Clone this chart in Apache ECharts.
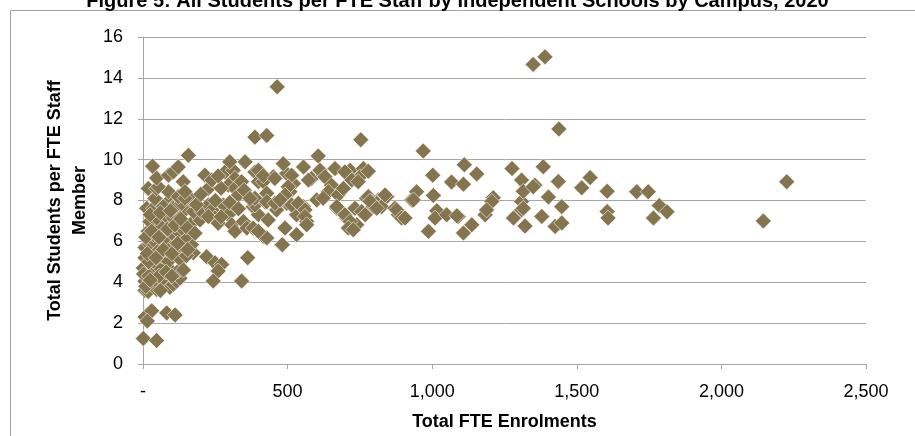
<!DOCTYPE html>
<html>
<head>
<meta charset="utf-8">
<script src="https://cdn.jsdelivr.net/npm/echarts@6/dist/echarts.min.js"></script>
<style>html,body{margin:0;padding:0;background:#fff}#c{width:915px;height:436px}</style>
</head>
<body>
<div id="c"></div>
<script>
var titleText = "Figure 5: All Students per FTE Staff by Independent Schools by Campus, 2020";
var xAxisTitle = "Total FTE Enrolments";
var yAxisTitle = "Total Students per FTE Staff\nMember";
var xTicks = [0, 500, 1000, 1500, 2000, 2500];
var yTicks = [0, 2, 4, 6, 8, 10, 12, 14, 16];

// Small campuses (enrolment under ~260)
var enrolSmall = [1,47,7,30,82,111,15,7,18,41,47,70,88,93,105,116,128,7,70,1,30,59,93,122,2,20,55,7,36,65,88,111,82,134,174,7,24,41,88,111,168,145,76,50,20,130,150,18,36,41,65,99,122,134,59,24,99,168,197,10,47,82,116,105,145,174,203,226,238,249,226,13,36,65,88,111,70,105,134,163,41,18,88,122,157,145,47,53,139,145,47,88,105,122,33,157,214,226,238,
  10,25,60,80,100,140,15,45,70,100,120,155,30,55,85,110,150,180,25,60,95,130,185,200];
var ratioSmall = [1.25,1.15,2.3,2.6,2.5,2.4,2.1,3.6,3.55,3.9,3.65,3.75,3.9,3.75,3.9,4.05,4.2,4.05,4.2,4.7,4.55,4.7,4.63,4.55,4.4,4.3,4.3,5.2,5.03,5.28,5.03,5.52,5.6,5.68,5.44,5.7,5.84,6.0,5.84,6.0,5.84,6.17,6.17,5.5,5.0,5.1,5.3,6.49,6.33,6.81,6.65,6.41,6.49,6.65,6.81,6.97,6.97,6.89,7.05,6.2,7.14,7.22,7.3,7.14,7.54,7.46,7.46,7.78,7.54,7.14,7.22,7.62,7.62,7.78,7.94,7.78,7.7,7.62,7.86,8.03,8.1,8.59,8.43,8.19,8.19,8.11,8.59,8.67,8.92,8.43,9.1,9.24,9.4,9.64,9.68,10.21,9.24,8.59,9.0,
  3.8,4.1,3.6,4.5,4.3,4.6,5.4,5.2,5.6,5.4,5.9,5.6,6.5,6.2,6.6,6.8,6.7,6.4,7.3,7.4,7.5,7.1,7.8,8.3];

// Mid-sized campuses (~250 to ~950)
var enrolMid = [260,278,295,307,318,347,359,284,312,318,295,318,341,330,353,387,399,220,249,272,260,243,362,341,381,399,387,422,462,497,531,555,566,670,704,739,773,796,814,381,416,480,531,428,399,491,416,451,497,520,508,428,485,485,555,583,623,664,716,762,750,464,387,428,753,606,399,416,456,514,572,612,629,698,722,744,779,502,491,652,641,675,693,779,791,843,929,387,428,456,474,514,537,560,601,623,670,733,756,768,808,825,871,883,433,560,566,698,716,710,727,482,785,808,877,894,906,
  250,270,300,330,260,350,370,300,270];
var ratioMid = [6.89,7.78,7.3,6.81,6.49,6.97,6.65,9.4,9.48,9.08,8.75,8.59,8.92,8.27,9.89,9.4,8.92,5.25,4.95,4.87,4.55,4.06,5.2,4.06,7.7,7.3,7.78,7.94,7.54,7.86,7.3,7.7,6.97,7.62,7.14,6.81,8.11,7.7,8.03,6.65,6.25,5.84,6.33,6.17,6.49,6.65,8.92,9.16,9.32,8.83,8.43,8.35,8.11,9.8,9.64,9.08,9.24,9.56,9.48,9.56,9.16,13.56,11.1,11.18,10.97,10.18,9.48,9.21,9.08,9.24,9.0,9.48,9.16,9.4,9.0,8.92,9.43,8.67,8.27,8.75,8.43,8.27,8.59,8.19,7.94,8.19,8.03,8.11,7.94,7.86,8.03,7.78,7.86,7.54,8.03,8.11,7.7,7.62,7.46,7.3,7.86,7.7,7.62,7.3,7.05,7.22,6.81,7.3,6.97,6.65,6.57,5.84,7.96,7.62,7.54,7.14,7.14,
  8.0,8.6,7.9,7.6,9.2,8.5,8.1,9.9,7.2];

// Large campuses (~830 and above)
var enrolLarge = [969,1002,1111,1154,1067,1108,1276,1384,1309,1355,1436,837,946,1004,1211,935,1016,1010,1050,1090,987,1108,1137,1183,1206,1309,1309,1315,1349,1281,1321,1379,1402,1448,1425,1448,1546,1517,1605,1605,1608,1707,1747,1765,1785,1812,2145,2226,1349,1390,1438,1188,1315,1085];
var ratioLarge = [10.42,9.24,9.75,9.3,8.9,8.8,9.56,9.65,9.0,8.75,8.93,8.27,8.43,8.25,8.14,8.03,7.5,7.14,7.3,7.22,6.49,6.41,6.81,7.3,7.95,7.95,7.54,8.45,8.67,7.14,6.75,7.22,8.17,7.7,6.73,6.9,9.12,8.62,8.45,7.46,7.14,8.43,8.43,7.14,7.75,7.45,7.0,8.92,14.66,15.03,11.5,7.54,7.62,7.25];

function pairs(xs, ys){ var out=[]; for (var i=0;i<xs.length;i++) out.push([xs[i], ys[i]]); return out; }
var points = pairs(enrolSmall, ratioSmall).concat(pairs(enrolMid, ratioMid)).concat(pairs(enrolLarge, ratioLarge));

var FONT = "'Liberation Sans', Arial, sans-serif";
var gridColor = '#a6a6a6';
var chart = echarts.init(document.getElementById('c'), null, {renderer:'canvas'});
chart.setOption({
  animation: false,
  backgroundColor: '#ffffff',
  title: {
    text: titleText, left: 'center', top: -14,
    textStyle: {fontFamily: FONT, fontSize: 20, fontWeight: 'bold', color: '#000'}
  },
  graphic: [{
    type: 'rect', left: 8, top: 8, z: -1, silent: true,
    shape: {width: 1000, height: 1000},
    style: {fill: 'none', stroke: '#a0a0a0', lineWidth: 1}
  }],
  grid: {left: 143, right: 49, top: 37, bottom: 69, containLabel: false},
  xAxis: {
    type: 'value', min: xTicks[0], max: xTicks[xTicks.length-1], interval: 500,
    name: xAxisTitle, nameLocation: 'middle', nameGap: 49,
    nameTextStyle: {fontFamily: FONT, fontSize: 18, fontWeight: 'bold', color: '#000'},
    axisLine: {show: true, onZero: false, lineStyle: {color: gridColor, width: 1}},
    axisTick: {show: true, length: 5, inside: false, lineStyle: {color: gridColor}},
    splitLine: {show: false},
    axisLabel: {
      margin: 19, fontFamily: FONT, fontSize: 18, color: '#000',
      formatter: function(v){ return v === 0 ? '-' : v.toLocaleString('en-US'); }
    }
  },
  yAxis: {
    type: 'value', min: yTicks[0], max: yTicks[yTicks.length-1], interval: 2,
    name: yAxisTitle, nameLocation: 'middle', nameGap: 48, nameRotate: 90,
    nameTextStyle: {fontFamily: FONT, fontSize: 18, fontWeight: 'bold', color: '#000', lineHeight: 25, align: 'center'},
    axisLine: {show: true, lineStyle: {color: gridColor, width: 1}},
    axisTick: {show: true, length: 5, inside: false, lineStyle: {color: gridColor}},
    splitLine: {show: true, lineStyle: {color: gridColor, width: 1}},
    axisLabel: {margin: 20, fontFamily: FONT, fontSize: 18, color: '#000'}
  },
  series: [{
    type: 'scatter',
    symbol: 'diamond',
    symbolSize: 16,
    data: points,
    itemStyle: {color: '#85754e', borderColor: '#ffffff', borderWidth: 0.6, opacity: 1}
  }]
});
</script>
</body>
</html>
